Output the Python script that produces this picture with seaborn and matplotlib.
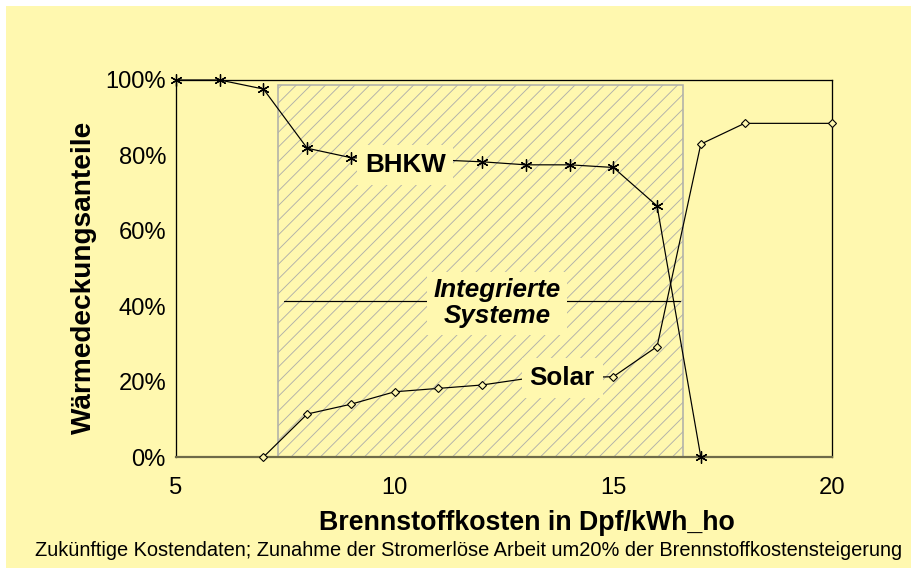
import matplotlib
matplotlib.use("Agg")
import matplotlib.pyplot as plt
from matplotlib.patches import Rectangle
from matplotlib.ticker import FuncFormatter
import pandas as pd
import seaborn as sns

# ---- data ----
kosten_bhkw = [5, 6, 7, 8, 9, 10, 11, 12, 13, 14, 15, 16, 17]
anteil_bhkw = [100, 100, 97.6, 81.9, 79.4, 79.0, 78.8, 78.3, 77.5, 77.5, 76.8, 66.6, 0]
kosten_solar = [7, 8, 9, 10, 11, 12, 13, 14, 15, 16, 17, 18, 20]
anteil_solar = [0, 11.4, 14.0, 17.3, 18.2, 19.1, 20.8, 21.0, 21.3, 29.3, 83.0, 88.5, 88.5]
region_von, region_bis, region_hoehe = 7.33, 16.6, 98.7
x_ticks = [5, 10, 15, 20]
y_ticks = [0, 20, 40, 60, 80, 100]

DPI = 132
def pt(px):
    return px * 72.0 / DPI

YELLOW = "#FFF8AF"
sns.set_theme(style="white")
plt.rcParams["font.family"] = ["Liberation Sans", "DejaVu Sans"]
plt.rcParams["hatch.linewidth"] = pt(0.9)
for k in ["text.color", "axes.labelcolor", "xtick.color", "ytick.color"]:
    plt.rcParams[k] = "black"

fig = plt.figure(figsize=(911 / DPI, 573 / DPI), dpi=DPI, facecolor="white")
fig.patches.append(Rectangle((6 / 911, 1 - 568 / 573), 905 / 911, 562 / 573,
                             transform=fig.transFigure, facecolor=YELLOW,
                             edgecolor="none", zorder=-10))
ax = fig.add_axes([176 / 911, 1 - 457 / 573, 656 / 911, 377 / 573])
ax.set_facecolor("none")

# hatched region "Integrierte Systeme"
ax.add_patch(Rectangle((region_von, 0), region_bis - region_von, region_hoehe,
                       facecolor="none", edgecolor="#b0b0aa", hatch="///",
                       linewidth=pt(1.6), zorder=1))

df_b = pd.DataFrame({"x": kosten_bhkw, "y": anteil_bhkw})
df_s = pd.DataFrame({"x": kosten_solar, "y": anteil_solar})
sns.lineplot(data=df_b, x="x", y="y", ax=ax, color="black", linewidth=pt(1.2),
             marker=(6, 2, 0), markersize=pt(12), markeredgewidth=pt(1.3),
             markeredgecolor="black", clip_on=False, zorder=3)
sns.lineplot(data=df_s, x="x", y="y", ax=ax, color="black", linewidth=pt(1.2),
             marker="D", markersize=pt(6), markeredgewidth=pt(1.1),
             markerfacecolor=YELLOW, markeredgecolor="black", clip_on=False, zorder=3)

# integrated systems marker line
ax.plot([region_von + 0.15, region_bis - 0.08], [41.4, 41.4], color="black",
        linewidth=pt(1.2), zorder=2)

box = dict(boxstyle="square,pad=0.3", facecolor=YELLOW, edgecolor="none")
ax.text(10.24, 77.5, "BHKW", fontsize=pt(26), fontweight="bold", ha="center",
        va="center", bbox=box, zorder=5)
ax.text(13.83, 21.0, "Solar", fontsize=pt(26), fontweight="bold", ha="center",
        va="center", bbox=box, zorder=5)
ax.text(12.34, 40.8, "Integrierte\nSysteme", fontsize=pt(26), fontweight="bold",
        fontstyle="italic", ha="center", va="center", linespacing=1.12,
        bbox=dict(boxstyle="square,pad=0.25", facecolor=YELLOW, edgecolor="none"),
        zorder=5)

ax.set_xlim(5, 20)
ax.set_ylim(0, 100)
ax.set_xticks(x_ticks)
ax.set_yticks(y_ticks)
ax.yaxis.set_major_formatter(FuncFormatter(lambda v, p: f"{v:.0f}%"))
ax.tick_params(axis="both", direction="in", length=pt(9), width=pt(1.2),
               colors="black", labelsize=pt(23.7))
ax.tick_params(axis="x", pad=pt(20))
ax.tick_params(axis="y", pad=pt(10))
for side in ["left", "top", "right"]:
    ax.spines[side].set_color("black")
    ax.spines[side].set_linewidth(pt(1.3))
ax.spines["bottom"].set_color("#6e6b48")
ax.spines["bottom"].set_linewidth(pt(2.2))

ax.set_xlabel("Brennstoffkosten in Dpf/kWh_ho", fontsize=pt(26.8), fontweight="bold")
ax.set_ylabel("Wärmedeckungsanteile", fontsize=pt(28), fontweight="bold")
ax.xaxis.set_label_coords((527 - 176) / 656, (457 - 510) / 377)
ax.yaxis.set_label_coords((97 - 176) / 656, (457 - 277) / 377)

fig.text(469 / 911, 1 - 551 / 573,
         "Zukünftige Kostendaten; Zunahme der Stromerlöse Arbeit um20% der Brennstoffkostensteigerung",
         fontsize=pt(20), ha="center", va="center", color="black")

fig.savefig("out.png", dpi=DPI, facecolor="white")
